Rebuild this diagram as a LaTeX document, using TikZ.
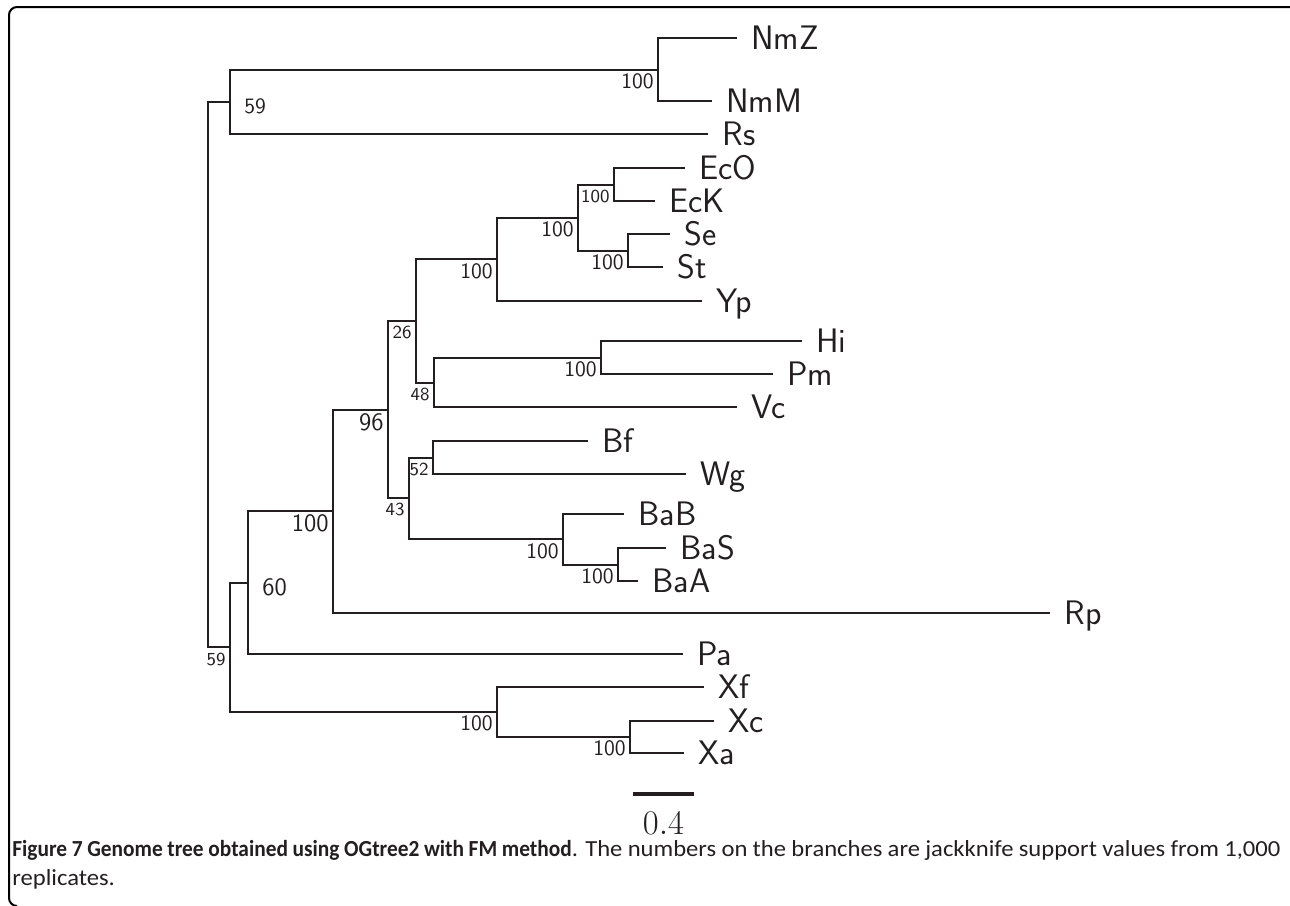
\documentclass[tikz,border=0pt]{standalone}
\usepackage{fontspec}
\newfontfamily\capfont[FakeStretch=1.07]{Carlito}
\newfontfamily\capboldfont[FakeStretch=0.93]{Carlito}
\usepackage{tikz}
\definecolor{treeink}{RGB}{35,31,32}

\tikzset{
  branch/.style={draw=treeink, line width=1.1pt},
  leaf/.style={anchor=west, inner xsep=7pt, inner ysep=0pt, text=treeink,
    font=\sffamily\fontsize{17}{20}\selectfont, text height=11.8pt, text depth=0pt},
  bsmall/.style={anchor=east, inner sep=0pt, text=treeink,
    font=\sffamily\fontsize{9.2}{11}\selectfont, text height=6pt, text depth=0pt},
  bmed/.style={anchor=east, inner sep=0pt, text=treeink,
    font=\sffamily\fontsize{11}{13}\selectfont, text height=7.2pt, text depth=0pt},
  blarge/.style={anchor=east, inner sep=0pt, text=treeink,
    font=\sffamily\fontsize{12.5}{15}\selectfont, text height=8.2pt, text depth=0pt}
}

\begin{document}
\begin{tikzpicture}[x=0.5pt,y=-0.5pt,line join=miter]
\useasboundingbox (0,0) rectangle (1290,905);
%% frame
\draw [line width=1pt, rounded corners=4pt] (17,906) -- (9,906) -- (9,7) -- (1290,7);
%% inner nodes
\coordinate (root) at (208,375);
\coordinate (nA) at (230,102);
\coordinate (nN) at (658,70);
\coordinate (nB) at (230,647);
\coordinate (n60) at (248,583);
\coordinate (n100) at (333,511);
\coordinate (n96) at (388,410);
\coordinate (n26) at (416,321);
\coordinate (nEY) at (497,259);
\coordinate (nES) at (578,218);
\coordinate (nEc) at (614,185);
\coordinate (nSS) at (628,251);
\coordinate (n48) at (434,383);
\coordinate (nHP) at (601,358);
\coordinate (n43) at (409,498);
\coordinate (n52) at (433,458);
\coordinate (nBa) at (563,539);
\coordinate (nBSA) at (618,565);
\coordinate (nXf) at (497,712);
\coordinate (nXX) at (630,737);
%% leaves
\node (NmZ) at (737,38) [leaf] {NmZ};
\node (NmM) at (712,101) [leaf] {NmM};
\node (Rs) at (708,134) [leaf] {Rs};
\node (EcO) at (685,168) [leaf] {EcO};
\node (EcK) at (655,201) [leaf] {EcK};
\node (Se) at (670,234) [leaf] {Se};
\node (St) at (663,267) [leaf] {St};
\node (Yp) at (702,301) [leaf] {Yp};
\node (Hi) at (802,341) [leaf] {Hi};
\node (Pm) at (773,374) [leaf] {Pm};
\node (Vc) at (737,407) [leaf] {Vc};
\node (Bf) at (588,441) [leaf] {Bf};
\node (Wg) at (686,474) [leaf] {Wg};
\node (BaB) at (624,514) [leaf] {BaB};
\node (BaS) at (666,548) [leaf] {BaS};
\node (BaA) at (638,581) [leaf] {BaA};
\node (Rp) at (1050,613) [leaf] {Rp};
\node (Pa) at (683,654) [leaf] {Pa};
\node (Xf) at (704,687) [leaf] {Xf};
\node (Xc) at (714,721) [leaf] {Xc};
\node (Xa) at (684,753) [leaf] {Xa};
%% support values
\node (sA) at (244,106) [bmed,anchor=west] {59};
\node (sN) at (654,81) [bmed] {100};
\node (sEc) at (610,196) [bsmall] {100};
\node (sES) at (574,229) [bmed] {100};
\node (sSS) at (624,262.5) [bmed] {100};
\node (sEY) at (493,271.5) [bmed] {100};
\node (s26) at (412,332) [bsmall] {26};
\node (sHP) at (597,369) [bmed] {100};
\node (s48) at (430,394) [bsmall] {48};
\node (s96) at (384,422) [blarge] {96};
\node (s52) at (429,469) [bsmall] {52};
\node (s43) at (405,509) [bsmall] {43};
\node (sBa) at (559,551) [bmed] {100};
\node (sBSA) at (614,576) [bmed] {100};
\node (s100) at (329,523.5) [blarge] {100};
\node (s60) at (262,587) [blarge,anchor=west] {60};
\node (sB) at (226,659) [bsmall] {59};
\node (sXf) at (493,723.5) [bmed] {100};
\node (sXX) at (626,748.5) [bmed] {100};
%% branches
\draw [branch] (root) |- (nA);
\draw [branch] (root) |- (nB);
\draw [branch] (nA) |- (nN);
\draw [branch] (nA) |- (Rs);
\draw [branch] (nN) |- (NmZ);
\draw [branch] (nN) |- (NmM);
\draw [branch] (nB) |- (n60);
\draw [branch] (nB) |- (nXf);
\draw [branch] (n60) |- (n100);
\draw [branch] (n60) |- (Pa);
\draw [branch] (n100) |- (n96);
\draw [branch] (n100) |- (Rp);
\draw [branch] (n96) |- (n26);
\draw [branch] (n96) |- (n43);
\draw [branch] (n26) |- (nEY);
\draw [branch] (n26) |- (n48);
\draw [branch] (nEY) |- (nES);
\draw [branch] (nEY) |- (Yp);
\draw [branch] (nES) |- (nEc);
\draw [branch] (nES) |- (nSS);
\draw [branch] (nEc) |- (EcO);
\draw [branch] (nEc) |- (EcK);
\draw [branch] (nSS) |- (Se);
\draw [branch] (nSS) |- (St);
\draw [branch] (n48) |- (nHP);
\draw [branch] (n48) |- (Vc);
\draw [branch] (nHP) |- (Hi);
\draw [branch] (nHP) |- (Pm);
\draw [branch] (n43) |- (n52);
\draw [branch] (n43) |- (nBa);
\draw [branch] (n52) |- (Bf);
\draw [branch] (n52) |- (Wg);
\draw [branch] (nBa) |- (BaB);
\draw [branch] (nBa) |- (nBSA);
\draw [branch] (nBSA) |- (BaS);
\draw [branch] (nBSA) |- (BaA);
\draw [branch] (nXf) |- (Xf);
\draw [branch] (nXf) |- (nXX);
\draw [branch] (nXX) |- (Xc);
\draw [branch] (nXX) |- (Xa);
%% scale bar
\coordinate (sbL) at (633,794);
\coordinate (sbR) at (694,794);
\draw [draw=treeink, line width=1.8pt] (sbL) -- (sbR);
\node (sbtext) at (663.5,823.5) [inner sep=0pt, text=treeink, font=\fontsize{17.5}{20}\selectfont, text height=11.3pt, text depth=0pt] {$0.4$};
%% caption
\node (caption) at (12,840) [anchor=north west, inner sep=0pt, text width=634pt, align=justify, text=treeink, font=\capfont\fontsize{11.5}{14.5}\selectfont] {{\capboldfont\bfseries\fontsize{11.5}{14.5}\selectfont Figure 7 Genome tree obtained using OGtree2 with FM method}. The numbers on the branches are jackknife support values from 1,000\linebreak replicates.};
\end{tikzpicture}
\end{document}
